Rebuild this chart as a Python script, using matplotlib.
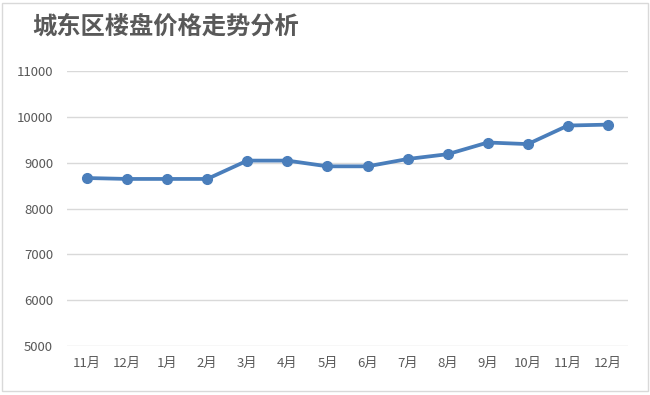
import matplotlib
matplotlib.use("Agg")
import matplotlib.pyplot as plt
from matplotlib.patches import Rectangle

plt.rcParams['font.family'] = ['Noto Sans CJK SC', 'DejaVu Sans']

# data
months = ["11月", "12月", "1月", "2月", "3月", "4月", "5月",
          "6月", "7月", "8月", "9月", "10月", "11月", "12月"]
prices = [8665, 8645, 8645, 8645, 9045, 9045, 8920,
          8920, 9080, 9185, 9440, 9405, 9810, 9830]
y_ticks = [5000, 6000, 7000, 8000, 9000, 10000, 11000]

text_color = "#595959"
line_color = "#4A7EBB"

fig = plt.figure(figsize=(6.5, 3.95), dpi=100)
ax = fig.add_axes([67 / 650, 1 - 346 / 395, 561 / 650, 275 / 395])

x = list(range(len(months)))
ax.plot(x, prices, color=line_color, linewidth=2.7, marker="o",
        markersize=7, zorder=3)

ax.set_xlim(-0.5, len(months) - 0.5)
ax.set_ylim(5000, 11000)
ax.set_yticks(y_ticks)
ax.set_yticklabels([str(v) for v in y_ticks])
ax.set_xticks(x)
ax.set_xticklabels(months)
ax.tick_params(axis="both", length=0, labelsize=9.5, colors=text_color)
ax.tick_params(axis="x", pad=8)
ax.tick_params(axis="y", pad=10)
ax.grid(axis="y", color="#D9D9D9", linewidth=1)
ax.set_axisbelow(True)
for s in ax.spines.values():
    s.set_visible(False)

fig.text(32 / 650, 1 - 27 / 395, "城东区楼盘价格走势分析", fontsize=17.5,
         fontweight="bold", color=text_color, va="center", ha="left")

# outer chart border
fig.patches.append(Rectangle((2 / 650, 4 / 395), 646 / 650, 388 / 395,
                             transform=fig.transFigure, fill=False,
                             edgecolor="#D9D9D9", linewidth=1))

fig.savefig("out.png", dpi=100)
